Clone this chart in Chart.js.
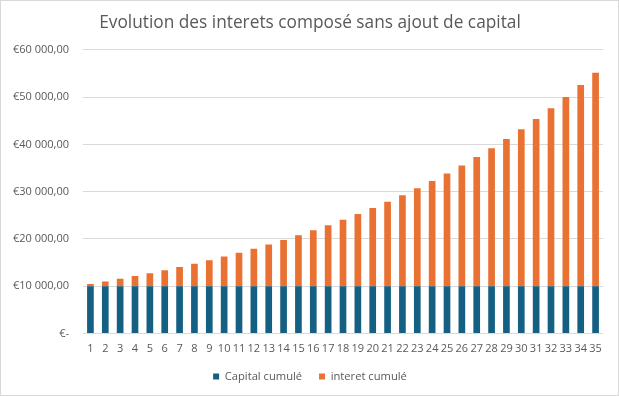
<!DOCTYPE html>
<html>
<head>
<meta charset="utf-8">
<script src="https://cdn.jsdelivr.net/npm/chart.js@4"></script>
<style>
  html, body { margin: 0; padding: 0; background: #fff; }
  #wrap { width: 619px; height: 396px; box-sizing: border-box; border: 1px solid #d9d9d9; }
</style>
</head>
<body>
<div id="wrap"><canvas id="chart" width="617" height="394"></canvas></div>
<script>
// années
const annees = ['1','2','3','4','5','6','7','8','9','10','11','12','13','14','15','16','17','18','19','20',
  '21','22','23','24','25','26','27','28','29','30','31','32','33','34','35'];
// capital de départ, constant
const capitalCumule = [10000,10000,10000,10000,10000,10000,10000,10000,10000,10000,10000,10000,10000,10000,10000,
  10000,10000,10000,10000,10000,10000,10000,10000,10000,10000,10000,10000,10000,10000,10000,10000,10000,10000,10000,10000];
// interets cumulés
const interetCumule = [500,1025,1576,2155,2763,3401,4071,4775,5513,6289,7103,7959,8856,9799,10789,11829,12920,
  14066,15270,16533,17860,19253,20715,22251,23864,25557,27335,29201,31161,33219,35380,37649,40032,42533,45160];
const ticksY = [0,10000,20000,30000,40000,50000,60000];

const gris = '#595959';
const police = '"Open Sans", sans-serif';

function formatEuro(v) {
    if (v === 0) return '€-';
    const s = String(Math.round(v)).replace(/\B(?=(\d{3})+(?!\d))/g, ' ');
    return '€' + s + ',00';
}

// recentre titre et légende sur toute la largeur (le padding gauche/droite n'est pas symétrique)
const recentrer = {
    id: 'recentrer',
    afterLayout(chart) {
        [chart.titleBlock, chart.legend].forEach(b => {
            if (b) { b.left += 4; b.right += 4; }
        });
    }
};

document.addEventListener('DOMContentLoaded', function() {
    const ctx = document.getElementById('chart').getContext('2d');
    new Chart(ctx, {
        type: 'bar',
        data: {
            labels: annees,
            datasets: [{
                label: 'Capital cumulé',
                data: capitalCumule,
                backgroundColor: '#156082',
                barPercentage: 0.45,
                categoryPercentage: 1
            }, {
                label: 'interet cumulé',
                data: interetCumule,
                backgroundColor: '#E97132',
                barPercentage: 0.45,
                categoryPercentage: 1
            }]
        },
        plugins: [recentrer],
        options: {
            responsive: false,
            animation: false,
            layout: { padding: { left: 8, right: 15, bottom: 3 } },
            plugins: {
                title: {
                    display: true,
                    text: 'Evolution des interets composé sans ajout de capital',
                    color: gris,
                    font: { family: police, size: 17.3, weight: 'normal' },
                    padding: { top: 12, bottom: 16 }
                },
                legend: {
                    position: 'bottom',
                    labels: {
                        color: gris,
                        font: { family: police, size: 11.2 },
                        boxWidth: 6, boxHeight: 6,
                        padding: 14,
                        // un peu plus d'espace entre les deux entrées
                        generateLabels: chart => Chart.defaults.plugins.legend.labels.generateLabels(chart)
                            .map((it, i) => (i === 0 ? Object.assign(it, { text: it.text + ' ' }) : it))
                    }
                },
                tooltip: { enabled: false }
            },
            scales: {
                x: {
                    stacked: true,
                    grid: { display: false },
                    border: { display: false },
                    ticks: { color: gris, font: { family: police, size: 11 }, padding: 1, maxRotation: 0, autoSkip: false }
                },
                y: {
                    stacked: true,
                    min: 0, max: 60000,
                    afterBuildTicks: s => { s.ticks = ticksY.map(v => ({ value: v })); },
                    afterFit: s => { s.width = 74; },
                    grid: { color: '#d9d9d9', drawTicks: false },
                    border: { display: false },
                    ticks: { color: gris, font: { family: police, size: 11 }, padding: 14, callback: v => formatEuro(v) }
                }
            }
        }
    });
});
</script>
</body>
</html>
